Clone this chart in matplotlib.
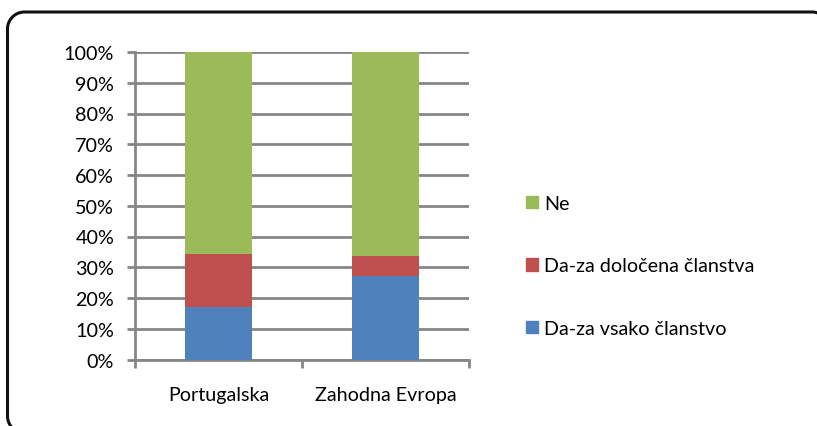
import matplotlib
matplotlib.use("Agg")
import matplotlib.pyplot as plt
from matplotlib.patches import Patch
import numpy as np

categories = ["Portugalska", "Zahodna Evropa"]
series_names = ["Da-za vsako članstvo", "Da-za določena članstva", "Ne"]
vsako = [17.1, 27.0]
dolocena = [17.2, 6.8]
ne = [65.7, 66.2]
colors = ["#4F81BD", "#C0504D", "#9BBB59"]
yticks = [0, 10, 20, 30, 40, 50, 60, 70, 80, 90, 100]

plt.rcParams['font.family'] = ['Lato', 'DejaVu Sans']
FS = 14.2

W, H = 817, 427
fig = plt.figure(figsize=(W / 100, H / 100), dpi=100)

# border overlay in pixel coordinates (y down)
bg = fig.add_axes([0, 0, 1, 1])
bg.set_xlim(0, W)
bg.set_ylim(H, 0)
bg.axis('off')
L, T, R, B, r = 7.5, 13, 829, 434, 17
def arc(cx, cy, a0, a1):
    t = np.radians(np.linspace(a0, a1, 30))
    return cx + r * np.cos(t), cy + r * np.sin(t)
segs = [arc(L + r, T + r, 180, 270), arc(R - r, T + r, 270, 360),
        arc(R - r, B - r, 0, 90), arc(L + r, B - r, 90, 180)]
bx = np.concatenate([s[0] for s in segs] + [segs[0][0][:1]])
by = np.concatenate([s[1] for s in segs] + [segs[0][1][:1]])
bg.plot(bx, by, color='#111111', linewidth=2.2, solid_joinstyle='round')

ax = fig.add_axes([135 / W, 1 - 360.5 / H, (469 - 135) / W, (360.5 - 53) / H])
x = np.arange(len(categories))
vals = [vsako, dolocena, ne]
bottom = np.zeros(len(categories))
for name, v, c in zip(series_names, vals, colors):
    ax.bar(x, v, width=0.4, bottom=bottom, color=c, label=name, zorder=3)
    bottom = bottom + np.array(v)

ax.set_xlim(-0.5, len(categories) - 0.5)
ax.set_ylim(0, 100)
ax.set_yticks(yticks)
ax.set_yticklabels([f"{t}%" for t in yticks], fontsize=FS)
ax.yaxis.grid(True, color='#868686', linewidth=2, zorder=0)
ax.set_axisbelow(True)
for s in ['top', 'right']:
    ax.spines[s].set_visible(False)
for s in ['left', 'bottom']:
    ax.spines[s].set_color('#868686')
    ax.spines[s].set_linewidth(2)
ax.tick_params(axis='y', length=6, width=2, color='#868686', pad=9)
ax.set_xticks([-0.5, 0.5, 1.5])
ax.set_xticklabels([])
ax.set_xticks(x, minor=True)
ax.set_xticklabels(categories, minor=True, fontsize=FS)
ax.tick_params(axis='x', which='major', length=6, width=2, color='#868686')
ax.tick_params(axis='x', which='minor', length=0, pad=19)

handles = [Patch(color=c) for c in colors][::-1]
labels = series_names[::-1]
fig.legend(handles, labels, loc='upper left', bbox_to_anchor=(526 / W, 1 - 196 / H),
           frameon=False, fontsize=FS, handlelength=0.6, handleheight=0.6,
           handletextpad=0.3, labelspacing=2.3, borderaxespad=0, borderpad=0)

fig.savefig("out.png", dpi=100)
